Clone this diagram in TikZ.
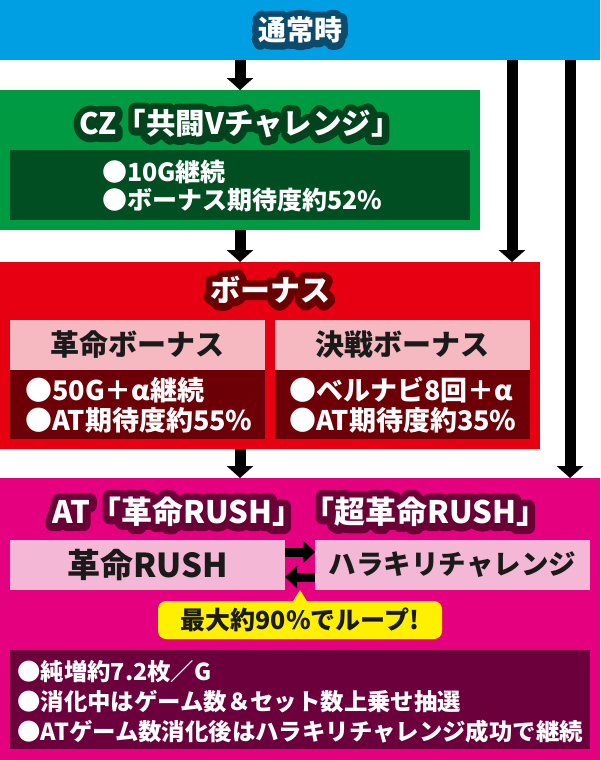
\documentclass[tikz,border=0pt]{standalone}
\usepackage{fontspec}
\setmainfont{Noto Sans CJK JP}
\newfontfamily\halofont{Noto Sans CJK JP}[UprightFeatures={FakeBold=48},BoldFeatures={FakeBold=48}]
\usetikzlibrary{arrows.meta}

\definecolor{tsujoblue}{HTML}{009FE3}
\definecolor{tsujoline}{HTML}{0B4B6E}
\definecolor{czgreen}{HTML}{009A42}
\definecolor{czdark}{HTML}{004E22}
\definecolor{czline}{HTML}{00431C}
\definecolor{bonusred}{HTML}{E60012}
\definecolor{bonuspink}{HTML}{F6B8C1}
\definecolor{bonusdark}{HTML}{6D0006}
\definecolor{bonusline}{HTML}{6A0000}
\definecolor{atmagenta}{HTML}{E5007F}
\definecolor{atpink}{HTML}{F4B7D6}
\definecolor{atdark}{HTML}{6B003C}
\definecolor{atline}{HTML}{6B0037}
\definecolor{loopyellow}{HTML}{FFF000}
\definecolor{inkdark}{HTML}{1A1A1A}

% outlined title text: emboldened dark copy underneath, white copy on top
\newcommand\outlined[2]{\makebox[0pt][l]{\color{#1}\halofont\bfseries #2}#2}

\tikzset{
  block/.style={rectangle, inner sep=0pt, outer sep=0pt, anchor=north west},
  headline/.style={text=white, inner sep=0pt, line join=round, font=\fontsize{#1}{#1}\selectfont\bfseries},
  headline/.default=28,
  subtext/.style={text=white, inner sep=0pt, anchor=west, align=left},
  arr/.style={line width=11pt, -{Triangle[width=26pt,length=12pt]}},
  xarr/.style={line width=9pt, -{Triangle[width=22pt,length=12pt]}}
}

\begin{document}
\begin{tikzpicture}[x=1pt, y=-1pt, line join=round]
  \useasboundingbox (0,0) rectangle (600,760);
  % normal play
  \node[block, fill=tsujoblue, minimum width=600pt, minimum height=60pt] (tsujo) at (0,0) {};
  \node[headline] (tsujoT) at (tsujo.center) {\outlined{tsujoline}{通常時}};
  % CZ
  \node[block, fill=czgreen, minimum width=480pt, minimum height=140pt] (cz) at (0,90) {};
  \node[headline=29.5] (czT) at (240,124) {\outlined{czline}{CZ「共闘Vチャレンジ」}};
  \node[block, fill=czdark, minimum width=460pt, minimum height=70pt] (czInfo) at (10,150) {};
  \node[subtext, font=\fontsize{25}{28}\selectfont\bfseries] (czL) at (102,186)
    {●10G継続\\●ボーナス期待度約52\%};
  % bonus
  \node[block, fill=bonusred, minimum width=540pt, minimum height=187pt] (bonus) at (0,262) {};
  \node[headline=30] (bonusT) at (270,290) {\outlined{bonusline}{ボーナス}};
  \node[block, fill=bonuspink, minimum width=255pt, minimum height=50pt] (kakumei) at (10,320) {};
  \node[block, fill=bonusdark, minimum width=255pt, minimum height=69pt] (kakumeiInfo) at (10,370) {};
  \node[block, fill=bonuspink, minimum width=255pt, minimum height=50pt] (kessen) at (275,320) {};
  \node[block, fill=bonusdark, minimum width=255pt, minimum height=69pt] (kessenInfo) at (275,370) {};
  \node[headline=29, text=inkdark] (kakumeiT) at (kakumei.center) {革命ボーナス};
  \node[headline=29, text=inkdark] (kessenT) at (kessen.center) {決戦ボーナス};
  \node[subtext, font=\fontsize{27}{30}\selectfont\bfseries] (kakumeiL) at (25,405)
    {●50G＋α継続\\●AT期待度約55\%};
  \node[subtext, font=\fontsize{27}{30}\selectfont\bfseries] (kessenL) at (289,405)
    {●ベルナビ8回＋α\\●AT期待度約35\%};
  % AT
  \node[block, fill=atmagenta, minimum width=600pt, minimum height=282pt] (at) at (0,478) {};
  \node[headline=31] (atT) at (300,512) {\outlined{atline}{AT「革命RUSH」「超革命RUSH」}};
  \node[block, fill=atpink, minimum width=275pt, minimum height=50pt] (rush) at (10,540) {};
  \node[block, fill=atpink, minimum width=275pt, minimum height=50pt] (harakiri) at (315,540) {};
  \node[headline=33, text=inkdark] (rushT) at (rush.center) {革命RUSH};
  \node[headline=27.5, text=inkdark] (harakiriT) at (harakiri.center) {ハラキリチャレンジ};
  \node[rectangle, rounded corners=8pt, fill=loopyellow, minimum width=284pt, minimum height=38pt,
    inner sep=0pt, font=\fontsize{25}{25}\selectfont\bfseries, text=inkdark] (loop) at (300,620)
    {最大約90\%でループ!};
  \fill[loopyellow] ([xshift=-8pt,yshift=-2pt]loop.north) -- (loop.north |- rush.south)
    -- ([xshift=8pt,yshift=-2pt]loop.north) -- cycle;
  \node[block, fill=atdark, minimum width=580pt, minimum height=99pt] (atInfo) at (10,650) {};
  \node[subtext, font=\fontsize{23.4}{30}\selectfont\bfseries] (atL) at (17,702)
    {●純増約7.2枚／G\\●消化中はゲーム数＆セット数上乗せ抽選\\●ATゲーム数消化後はハラキリチャレンジ成功で継続};
  % flow
  \coordinate (toBonus) at (512,60);
  \coordinate (toAT) at (570,60);
  \draw[arr] (tsujo.south -| cz.north) -- (cz.north);
  \draw[arr] (cz.south) -- (cz.south |- bonus.north);
  \draw[arr] (bonus.south -| cz.south) -- (cz.south |- at.north);
  \draw[arr] (toBonus) -- (toBonus |- bonus.north);
  \draw[arr] (toAT) -- (toAT |- at.north);
  \draw[xarr] ([yshift=13pt]rush.east) -- ([yshift=13pt]harakiri.west);
  \draw[xarr] ([yshift=-12pt]harakiri.west) -- ([yshift=-12pt]rush.east);
\end{tikzpicture}
\end{document}
